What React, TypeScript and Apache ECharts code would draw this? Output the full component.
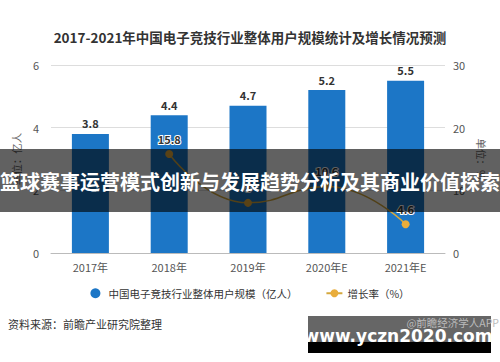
import React, { useEffect, useRef } from "react";
import * as echarts from "echarts";

const categories = ["2017年", "2018年", "2019年", "2020年E", "2021年E"];
const userScale = [3.8, 4.4, 4.7, 5.2, 5.5];
const growthYears = [null, 15.8, 8.0, 10.6, 4.6];
const title = "2017-2021年中国电子竞技行业整体用户规模统计及增长情况预测";
const bannerText = "篮球赛事运营模式创新与发展趋势分析及其商业价值探索";
const sourceText = "资料来源：前瞻产业研究院整理";
const seriesNames = ["中国电子竞技行业整体用户规模（亿人）", "增长率（%）"];

export default function App() {
  const ref = useRef<HTMLDivElement>(null);
  useEffect(() => {
    if (!ref.current) return;
    const chart = echarts.init(ref.current, null, { renderer: "svg" });
    const font = "'Noto Sans CJK SC', 'Noto Sans', sans-serif";
    chart.setOption({
      animation: false,
      backgroundColor: "#ffffff",
      textStyle: { fontFamily: font },
      title: {
        text: title,
        left: "center",
        top: 25,
        textStyle: { fontSize: 13.5, fontWeight: "bold", color: "#333333", fontFamily: font },
      },
      grid: { left: 51, right: 55, top: 65, bottom: 109 },
      legend: {
        top: 283,
        left: "center",
        itemGap: 28,
        itemWidth: 16,
        itemHeight: 10,
        textStyle: { fontSize: 10.5, color: "#333333", fontFamily: font },
        data: [
          { name: seriesNames[0], icon: "circle" },
          { name: seriesNames[1] },
        ],
      },
      xAxis: {
        type: "category",
        data: categories,
        axisLine: { lineStyle: { color: "#bbbbbb" } },
        axisTick: { alignWithLabel: true, lineStyle: { color: "#bbbbbb" }, length: 4 },
        axisLabel: { color: "#555555", fontSize: 11, margin: 8 },
      },
      yAxis: [
        {
          type: "value",
          min: 0,
          max: 6,
          interval: 2,
          name: "单位：亿人",
          nameLocation: "middle",
          nameGap: 22,
          nameTextStyle: { color: "#666666", fontSize: 10.5 },
          axisLine: { show: false },
          axisTick: { show: false },
          axisLabel: { color: "#555555", fontSize: 11, margin: 12 },
          splitLine: { lineStyle: { color: "#dddddd" } },
        },
        {
          type: "value",
          min: 0,
          max: 30,
          interval: 10,
          name: "单位：%",
          nameLocation: "middle",
          nameGap: 30,
          nameRotate: -90,
          nameTextStyle: { color: "#666666", fontSize: 10.5 },
          axisLine: { show: false },
          axisTick: { show: false },
          axisLabel: { color: "#555555", fontSize: 11, margin: 8 },
          splitLine: { show: false },
        },
      ],
      series: [
        {
          name: seriesNames[0],
          type: "bar",
          data: userScale,
          barWidth: 37,
          itemStyle: { color: "#1c76c6" },
          label: {
            show: true,
            position: "top",
            color: "#333333",
            fontSize: 11,
            fontWeight: "bold",
            distance: 5,
          },
        },
        {
          name: seriesNames[1],
          type: "line",
          yAxisIndex: 1,
          data: growthYears,
          smooth: true,
          symbol: "circle",
          symbolSize: 8,
          lineStyle: { color: "#d4a83e", width: 1.5 },
          itemStyle: { color: "#e9ad3c" },
          label: {
            show: true,
            position: "top",
            color: "#333333",
            fontSize: 11,
            fontWeight: "bold",
            textBorderColor: "#ffffff",
            textBorderWidth: 2,
            distance: 6,
          },
        },
      ],
      graphic: [
        {
          type: "rect",
          z: 100,
          shape: { x: 0, y: 149, width: 500, height: 63 },
          style: { fill: "rgba(0,0,0,0.62)" },
        },
        {
          type: "text",
          z: 101,
          x: 250,
          y: 181,
          style: {
            text: bannerText,
            fill: "#ffffff",
            font: `bold 20px ${font}`,
            textAlign: "center",
            textVerticalAlign: "middle",
          },
        },
        {
          type: "text",
          z: 101,
          x: 8,
          y: 324,
          style: {
            text: sourceText,
            fill: "#333333",
            font: `11px ${font}`,
            textVerticalAlign: "middle",
          },
        },
        {
          type: "rect",
          z: 100,
          shape: { x: 308, y: 316, width: 183, height: 27 },
          style: { fill: "#666666" },
        },
        {
          type: "rect",
          z: 100,
          shape: { x: 308, y: 342, width: 183, height: 11 },
          style: { fill: "#000000" },
        },
        {
          type: "text",
          z: 101,
          x: 499,
          y: 322,
          style: {
            text: "@前瞻经济学人APP",
            fill: "#bbbbbb",
            font: `10.5px ${font}`,
            textAlign: "right",
            textVerticalAlign: "middle",
          },
        },
        {
          type: "text",
          z: 101,
          x: 398,
          y: 336,
          style: {
            text: "www.yczn2020.com",
            fill: "#ffffff",
            font: `bold 17px 'DejaVu Sans', sans-serif`,
            textAlign: "center",
            textVerticalAlign: "middle",
          },
        },
      ],
    });
    return () => chart.dispose();
  }, []);
  return (
    <div
      ref={ref}
      style={{ position: "fixed", left: 0, top: 0, width: 500, height: 362 }}
    />
  );
}
